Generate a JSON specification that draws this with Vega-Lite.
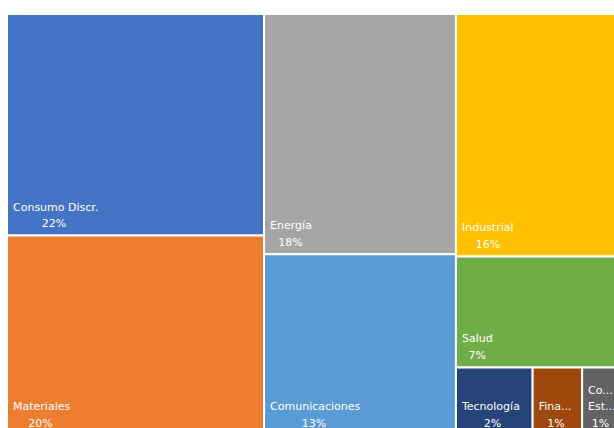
{
  "$schema": "https://vega.github.io/schema/vega-lite/v6.json",
  "autosize": "none",
  "width": 607,
  "height": 414,
  "padding": {"left": 7, "top": 14, "right": 0, "bottom": 0},
  "background": "white",
  "config": {"view": {"stroke": null}},
  "data": {
    "values": [
      {"sector": "Consumo Discr.", "label": "Consumo Discr.", "value": 22.0, "col": 1, "band": 1, "ord": 1},
      {"sector": "Materiales", "label": "Materiales", "value": 19.8, "col": 1, "band": 2, "ord": 1},
      {"sector": "Energía", "label": "Energía", "value": 17.8, "col": 2, "band": 1, "ord": 1},
      {"sector": "Comunicaciones", "label": "Comunicaciones", "value": 13.4, "col": 2, "band": 2, "ord": 1},
      {"sector": "Industrial", "label": "Industrial", "value": 15.55, "col": 3, "band": 1, "ord": 1},
      {"sector": "Salud", "label": "Salud", "value": 7.12, "col": 3, "band": 2, "ord": 1},
      {"sector": "Tecnología", "label": "Tecnología", "value": 2.0, "col": 3, "band": 3, "ord": 1},
      {"sector": "Financiero", "label": "Fina...", "value": 1.29, "col": 3, "band": 3, "ord": 2},
      {"sector": "Consumo Est.", "label": "Co...\nEst...", "value": 1.04, "col": 3, "band": 3, "ord": 3}
    ]
  },
  "transform": [
    {"joinaggregate": [{"op": "sum", "field": "value", "as": "colSum"}], "groupby": ["col"]},
    {"joinaggregate": [{"op": "sum", "field": "value", "as": "bandSum"}], "groupby": ["col", "band"]},
    {"window": [{"op": "sum", "field": "value", "as": "cumAll"}], "sort": [{"field": "col"}, {"field": "band"}, {"field": "ord"}], "frame": [null, 0]},
    {"joinaggregate": [{"op": "max", "field": "cumAll", "as": "colX1"}], "groupby": ["col"]},
    {"calculate": "datum.colX1 - datum.colSum", "as": "colX0"},
    {"window": [{"op": "sum", "field": "value", "as": "cumCol"}], "groupby": ["col"], "sort": [{"field": "band"}, {"field": "ord"}], "frame": [null, 0]},
    {"joinaggregate": [{"op": "max", "field": "cumCol", "as": "bandEnd"}], "groupby": ["col", "band"]},
    {"calculate": "(datum.bandEnd - datum.bandSum) / datum.colSum", "as": "y0"},
    {"calculate": "datum.bandEnd / datum.colSum", "as": "y1"},
    {"window": [{"op": "sum", "field": "value", "as": "cumBand"}], "groupby": ["col", "band"], "sort": [{"field": "ord"}], "frame": [null, 0]},
    {"calculate": "datum.colX0 + datum.colSum * (datum.cumBand - datum.value) / datum.bandSum", "as": "x0"},
    {"calculate": "datum.colX0 + datum.colSum * datum.cumBand / datum.bandSum", "as": "x1"},
    {"calculate": "format(datum.value, '.0f') + '%'", "as": "pct"},
    {"calculate": "split(datum.label, '\\n')", "as": "lines"},
    {"calculate": "datum.lines[0]", "as": "line1"},
    {"calculate": "datum.lines[length(datum.lines) - 1]", "as": "lastLine"},
    {"calculate": "length(datum.lines) > 1 ? datum.lines[0] : ''", "as": "upperLine"},
    {"calculate": "datum.x0 + (6.7 * length(datum.line1) - 3.0 * length(replace(datum.line1, regexp('[^ilítrI. ]', 'g'), ''))) / 2 / 6.15", "as": "pctX"}
  ],
  "layer": [
    {
      "mark": {"type": "rect", "stroke": "white", "strokeWidth": 2, "clip": true},
      "encoding": {
        "x": {"field": "x0", "type": "quantitative", "scale": {"domain": [0, 98.7], "nice": false, "zero": false}, "axis": null},
        "x2": {"field": "x1"},
        "y": {"field": "y0", "type": "quantitative", "scale": {"domain": [0, 0.98337], "nice": false, "zero": false, "reverse": true}, "axis": null},
        "y2": {"field": "y1"},
        "color": {
          "field": "sector",
          "type": "nominal",
          "scale": {
            "domain": ["Consumo Discr.", "Materiales", "Energía", "Comunicaciones", "Industrial", "Salud", "Tecnología", "Financiero", "Consumo Est."],
            "range": ["#4472C4", "#ED7D31", "#A5A5A5", "#5B9BD5", "#FFC000", "#70AD47", "#264478", "#9E480E", "#636363"]
          },
          "legend": null
        }
      }
    },
    {
      "mark": {"type": "text", "align": "left", "baseline": "alphabetic", "dx": 6, "dy": -25, "font": "DejaVu Sans", "fontSize": 11, "color": "white", "clip": true},
      "encoding": {
        "x": {"field": "x0", "type": "quantitative"},
        "y": {"field": "y1", "type": "quantitative"},
        "text": {"field": "lastLine", "type": "nominal"}
      }
    },
    {
      "mark": {"type": "text", "align": "left", "baseline": "alphabetic", "dx": 6, "dy": -41.5, "font": "DejaVu Sans", "fontSize": 11, "color": "white", "clip": true},
      "encoding": {
        "x": {"field": "x0", "type": "quantitative"},
        "y": {"field": "y1", "type": "quantitative"},
        "text": {"field": "upperLine", "type": "nominal"}
      }
    },
    {
      "mark": {"type": "text", "align": "center", "baseline": "alphabetic", "dx": 6, "dy": -8.5, "font": "DejaVu Sans", "fontSize": 11, "color": "white", "clip": true},
      "encoding": {
        "x": {"field": "pctX", "type": "quantitative"},
        "y": {"field": "y1", "type": "quantitative"},
        "text": {"field": "pct", "type": "nominal"}
      }
    }
  ]
}
